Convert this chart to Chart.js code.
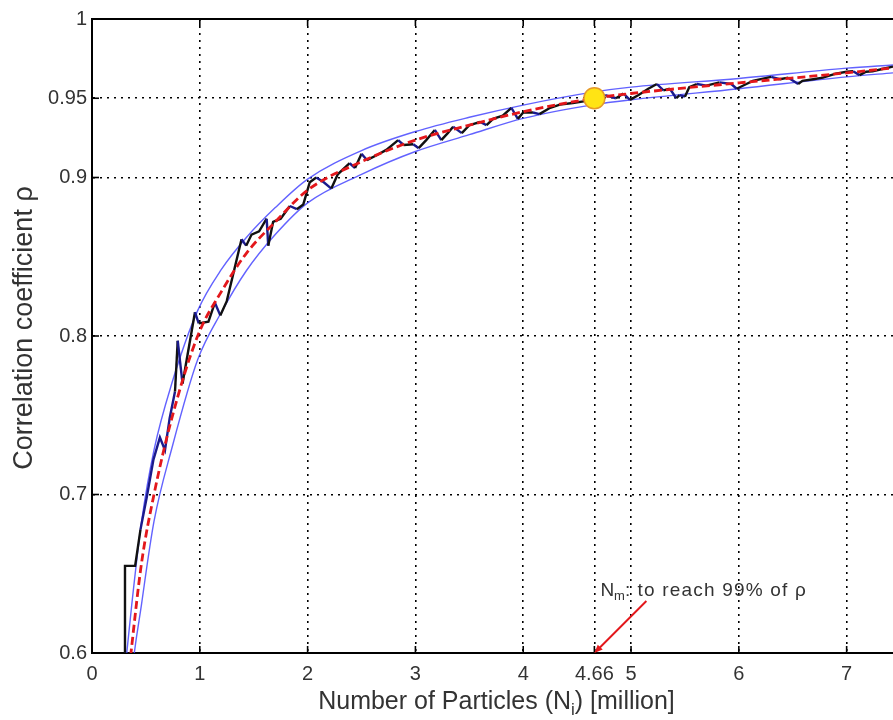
<!DOCTYPE html>
<html>
<head>
<meta charset="utf-8">
<script src="https://cdn.jsdelivr.net/npm/chart.js@4.4.1/dist/chart.umd.min.js"></script>
<style>
  html, body { margin: 0; padding: 0; background: #fff; overflow: hidden; }
  #caja { width: 893px; height: 720px; position: relative; }
</style>
</head>
<body>
<div id="caja"><canvas id="rhoChart"></canvas></div>
<script>
// ticks
const xTicks = [0, 1, 2, 3, 4, 4.66, 5, 6, 7];
const xTickLabels = ['0', '1', '2', '3', '4', '4.66', '5', '6', '7'];
const yTicks = [0.6, 0.7, 0.8, 0.9, 0.95, 1];
const yTickLabels = ['0.6', '0.7', '0.8', '0.9', '0.95', '1'];

// curva ajustada y bandas
const xFit = [0.30, 0.368, 0.46, 0.575, 0.74, 0.98, 1.2, 1.43, 1.7, 2.0, 2.5, 3.0, 3.5, 4.0, 4.66, 5.0, 6.0, 7.0, 7.43];
const rhoFit = [0.560, 0.604, 0.657, 0.700, 0.748, 0.800, 0.828, 0.852, 0.872, 0.892, 0.910, 0.9236, 0.933, 0.9415, 0.950, 0.953, 0.9597, 0.9660, 0.9692];
const rhoUpper = [0.585, 0.630, 0.683, 0.728, 0.770, 0.816, 0.842, 0.862, 0.881, 0.899, 0.917, 0.929, 0.938, 0.9457, 0.954, 0.957, 0.9625, 0.969, 0.971];
const rhoLower = [0.520, 0.585, 0.631, 0.683, 0.729, 0.785, 0.815, 0.841, 0.864, 0.884, 0.902, 0.9164, 0.927, 0.9373, 0.946, 0.949, 0.956, 0.9635, 0.966];

// serie medida
const xRaw = [0.306, 0.306, 0.40, 0.45, 0.507, 0.57, 0.63, 0.677, 0.72, 0.77, 0.795, 0.84, 0.955, 0.99, 1.08, 1.14, 1.19, 1.25, 1.387,
  1.43, 1.48, 1.55, 1.62, 1.635, 1.68, 1.75, 1.835, 1.90, 1.96, 2.02, 2.08, 2.15, 2.22, 2.28, 2.39, 2.44, 2.50, 2.55, 2.64,
  2.73, 2.84, 2.89, 2.98, 3.03, 3.10, 3.18, 3.24, 3.30, 3.35, 3.43, 3.50, 3.60, 3.66, 3.72, 3.81, 3.89, 3.95, 4.00, 4.09,
  4.15, 4.25, 4.34, 4.46, 4.56, 4.66, 4.76, 4.86, 4.93, 4.99, 5.07, 5.16, 5.24, 5.30, 5.36, 5.42, 5.45, 5.50, 5.54, 5.61,
  5.70, 5.82, 5.93, 5.98, 6.07, 6.13, 6.30, 6.38, 6.46, 6.55, 6.59, 6.69, 6.78, 6.90, 7.00, 7.06, 7.12, 7.18, 7.24, 7.34, 7.43];
const rhoRaw = [0.550, 0.655, 0.655, 0.678, 0.698, 0.722, 0.736, 0.728, 0.748, 0.765, 0.797, 0.770, 0.815, 0.808, 0.809, 0.821, 0.813, 0.822, 0.861,
  0.857, 0.864, 0.866, 0.874, 0.857, 0.872, 0.874, 0.882, 0.880, 0.883, 0.897, 0.900, 0.897, 0.893, 0.902, 0.909, 0.906, 0.915, 0.911, 0.914,
  0.9174, 0.9236, 0.9205, 0.921, 0.9185, 0.9236, 0.930, 0.9236, 0.928, 0.932, 0.928, 0.933, 0.935, 0.933, 0.937, 0.939, 0.944, 0.937, 0.941, 0.941,
  0.940, 0.944, 0.946, 0.947, 0.948, 0.950, 0.952, 0.950, 0.953, 0.949, 0.952, 0.956, 0.959, 0.955, 0.956, 0.950, 0.952, 0.951, 0.957, 0.959,
  0.958, 0.960, 0.959, 0.956, 0.959, 0.961, 0.9635, 0.962, 0.963, 0.959, 0.961, 0.962, 0.963, 0.9655, 0.9667, 0.967, 0.9646, 0.9667, 0.967, 0.9686, 0.970];

// punto N_m
const xNm = [4.66];
const rhoNm = [0.95];

const fuente = "'Liberation Sans', Arial, sans-serif";

function puntos(xs, ys) {
  return xs.map((v, i) => ({ x: v, y: ys[i] }));
}

function linea(ctx, x1, y1, x2, y2) {
  ctx.beginPath();
  ctx.moveTo(x1, y1);
  ctx.lineTo(x2, y2);
  ctx.stroke();
}

// marco superior, ticks hacia dentro, flecha y textos
const marcoYTextos = {
  id: 'marcoYTextos',
  afterDraw(chart) {
    const { ctx, chartArea: a, scales: { x, y } } = chart;
    ctx.save();
    ctx.strokeStyle = '#000';
    ctx.lineWidth = 2;
    linea(ctx, a.left, a.top, a.right, a.top);

    ctx.lineWidth = 1.6;
    x.ticks.forEach(t => {
      const px = x.getPixelForValue(t.value);
      linea(ctx, px, a.bottom, px, a.bottom - 7);
      linea(ctx, px, a.top, px, a.top + 7);
    });
    y.ticks.forEach(t => {
      const py = y.getPixelForValue(t.value);
      linea(ctx, a.left, py, a.left + 7, py);
    });

    // flecha hacia N_m
    const tipX = x.getPixelForValue(xNm[0]);
    const tipY = a.bottom;
    const colaX = tipX + 52, colaY = tipY - 52;
    ctx.strokeStyle = '#e3171b';
    ctx.fillStyle = '#e3171b';
    ctx.lineWidth = 2;
    linea(ctx, colaX, colaY, tipX + 4, tipY - 4);
    const ang = Math.atan2(tipY - colaY, tipX - colaX);
    ctx.beginPath();
    ctx.moveTo(tipX, tipY);
    ctx.lineTo(tipX - 9 * Math.cos(ang - 0.4), tipY - 9 * Math.sin(ang - 0.4));
    ctx.lineTo(tipX - 9 * Math.cos(ang + 0.4), tipY - 9 * Math.sin(ang + 0.4));
    ctx.closePath();
    ctx.fill();

    // texto de la anotacion
    ctx.fillStyle = '#333';
    ctx.textBaseline = 'alphabetic';
    ctx.textAlign = 'left';
    let tx = tipX + 6;
    const ty = colaY - 5;
    ctx.font = '19px ' + fuente;
    ctx.fillText('N', tx, ty);
    tx += ctx.measureText('N').width;
    ctx.font = '13px ' + fuente;
    ctx.fillText('m', tx, ty + 4);
    tx += ctx.measureText('m').width;
    ctx.font = '19px ' + fuente;
    ctx.fillText(':', tx, ty);
    tx += ctx.measureText(': ').width + 2;
    ctx.letterSpacing = '1.2px';
    ctx.fillText('to reach 99% of \u03c1', tx, ty);
    ctx.letterSpacing = '0px';

    // titulo eje x con subindice
    const p1 = 'Number of Particles (N', p2 = 'i', p3 = ') [million]';
    ctx.font = '25px ' + fuente;
    const w1 = ctx.measureText(p1).width, w3 = ctx.measureText(p3).width;
    ctx.font = '17px ' + fuente;
    const w2 = ctx.measureText(p2).width;
    let cx = (a.left + a.right) / 2 + 4 - (w1 + w2 + w3) / 2;
    const by = 709;
    ctx.font = '25px ' + fuente;
    ctx.fillText(p1, cx, by);
    cx += w1;
    ctx.font = '17px ' + fuente;
    ctx.fillText(p2, cx, by + 6);
    cx += w2;
    ctx.font = '25px ' + fuente;
    ctx.fillText(p3, cx, by);

    // titulo eje y
    ctx.save();
    ctx.translate(32, (a.top + a.bottom) / 2 - 8);
    ctx.rotate(-Math.PI / 2);
    ctx.textAlign = 'center';
    ctx.font = '27px ' + fuente;
    ctx.fillText('Correlation coefficient \u03c1', 0, 0);
    ctx.restore();

    ctx.restore();
  }
};

const ctxCanvas = document.getElementById('rhoChart').getContext('2d');
new Chart(ctxCanvas, {
  type: 'scatter',
  data: {
    datasets: [
      {
        data: puntos(xNm, rhoNm),
        pointRadius: 10.5,
        pointBackgroundColor: '#ffe414',
        pointBorderColor: '#e59a2a',
        pointBorderWidth: 1.5,
        showLine: false
      },
      {
        data: puntos(xFit, rhoFit),
        showLine: true,
        borderColor: '#e3171b',
        borderWidth: 2.8,
        borderDash: [8, 4],
        pointRadius: 0,
        cubicInterpolationMode: 'monotone'
      },
      {
        data: puntos(xRaw, rhoRaw),
        showLine: true,
        borderWidth: 2.4,
        pointRadius: 0,
        tension: 0,
        segment: {
          borderColor: s => {
            const x0 = s.p0.parsed.x;
            if (x0 < 0.41) return '#111';
            if (x0 < 0.76) return '#1a1a8c';
            return s.p1.parsed.y < s.p0.parsed.y ? '#1a1a8c' : '#111';
          }
        }
      },
      {
        data: puntos(xFit, rhoUpper),
        showLine: true,
        borderColor: 'rgba(70,70,255,0.85)',
        borderWidth: 1.4,
        pointRadius: 0,
        cubicInterpolationMode: 'monotone'
      },
      {
        data: puntos(xFit, rhoLower),
        showLine: true,
        borderColor: 'rgba(70,70,255,0.85)',
        borderWidth: 1.4,
        pointRadius: 0,
        cubicInterpolationMode: 'monotone'
      }
    ]
  },
  options: {
    responsive: true,
    maintainAspectRatio: false,
    animation: false,
    layout: { autoPadding: false, padding: { top: 19, left: 0, right: 0, bottom: 0 } },
    plugins: {
      legend: { display: false },
      tooltip: { enabled: false }
    },
    scales: {
      x: {
        type: 'linear',
        min: 0,
        max: 7.43,
        afterFit: s => { s.height = 67; s.paddingLeft = 0; s.paddingRight = 0; },
        afterBuildTicks: s => { s.ticks = xTicks.map(v => ({ value: v })); },
        grid: { color: '#000', lineWidth: 1.6, drawTicks: false },
        border: { display: true, color: '#000', width: 2, dash: [2, 5] },
        ticks: {
          padding: 9,
          maxRotation: 0,
          autoSkip: false,
          color: '#333',
          font: { family: fuente, size: 20 },
          callback: (v, i) => xTickLabels[i]
        }
      },
      y: {
        type: 'linear',
        min: 0.6,
        max: 1,
        afterFit: s => { s.width = 92; s.paddingTop = 0; s.paddingBottom = 0; },
        afterBuildTicks: s => { s.ticks = yTicks.map(v => ({ value: v })); },
        grid: { color: '#000', lineWidth: 1.6, drawTicks: false },
        border: { display: true, color: '#000', width: 2, dash: [2, 5] },
        ticks: {
          padding: 5,
          autoSkip: false,
          color: '#333',
          font: { family: fuente, size: 20 },
          callback: (v, i) => yTickLabels[i]
        }
      }
    }
  },
  plugins: [marcoYTextos]
});
</script>
</body>
</html>
